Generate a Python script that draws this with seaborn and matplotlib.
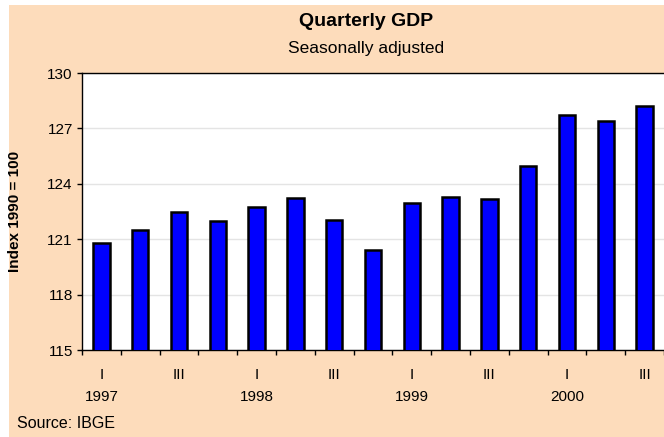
import matplotlib.pyplot as plt
import pandas as pd
import seaborn as sns
from matplotlib.patches import Rectangle

# Quarterly GDP, index 1990 = 100
years = ["1997"] * 4 + ["1998"] * 4 + ["1999"] * 4 + ["2000"] * 3
quarters = ["I", "II", "III", "IV"] * 3 + ["I", "II", "III"]
gdp_index = [120.8, 121.5, 122.5, 122.0,
             122.75, 123.25, 122.05, 120.4,
             122.95, 123.3, 123.2, 124.95,
             127.7, 127.4, 128.2]

df = pd.DataFrame({"year": years, "quarter": quarters, "value": gdp_index})
df["period"] = df["year"] + " " + df["quarter"]

peach = "#FDDCBB"

sns.set_style("white")
plt.rcParams["font.family"] = ["Liberation Sans", "DejaVu Sans"]
plt.rcParams["text.color"] = "black"
plt.rcParams["axes.labelcolor"] = "black"
plt.rcParams["xtick.color"] = "black"
plt.rcParams["ytick.color"] = "black"

fig = plt.figure(figsize=(6.64, 4.37), dpi=100)
fig.patch.set_facecolor("white")
fig.patches.append(Rectangle((9 / 664, 0), 655 / 664, 432 / 437,
                             transform=fig.transFigure, facecolor=peach,
                             edgecolor="none", zorder=-10))

ax = fig.add_axes([82 / 664, 87 / 437, 582 / 664, 277 / 437])
ax.set_facecolor("white")

sns.barplot(data=df, x="period", y="value", color="#0000FF", saturation=1,
            width=0.42, edgecolor="black", linewidth=1.8, ax=ax, zorder=3)

ax.set_ylim(115, 130)
ax.set_xlim(-0.5, len(df) - 0.5)
ax.set_yticks([115, 118, 121, 124, 127, 130])
ax.yaxis.grid(True, color="#E4E4E4", linewidth=1, zorder=0)
ax.set_axisbelow(True)

# roman numeral quarter labels, years underneath
xt_labels = [q if q in ("I", "III") else "" for q in df["quarter"]]
ax.set_xticks(range(len(df)))
ax.set_xticklabels(xt_labels, fontsize=11)
ax.tick_params(axis="x", which="major", length=0, pad=13)
ax.set_xticks([i - 0.5 for i in range(len(df) + 1)], minor=True)
ax.tick_params(axis="x", which="minor", length=3.6, width=1, color="black",
               direction="out", bottom=True)
for i, (y, q) in enumerate(zip(df["year"], df["quarter"])):
    if q == "I":
        ax.text(i, -0.17, y, transform=ax.get_xaxis_transform(),
                ha="center", va="center", fontsize=11)

ax.tick_params(axis="y", length=3.6, width=1, color="black", direction="out",
               left=True, pad=3, labelsize=11)

ax.set_xlabel("")
ax.set_ylabel("Index 1990 = 100", fontsize=11, fontweight="bold")
ax.yaxis.set_label_coords(-60 / 582, 0.5)

for side in ["left", "bottom", "top"]:
    ax.spines[side].set_visible(True)
    ax.spines[side].set_color("black")
    ax.spines[side].set_linewidth(1)
ax.spines["right"].set_visible(False)

fig.text(366 / 664, 1 - 22 / 437, "Quarterly GDP", ha="center", va="center",
         fontsize=14, fontweight="bold")
fig.text(366 / 664, 1 - 48 / 437, "Seasonally adjusted", ha="center",
         va="center", fontsize=12.5)
fig.text(17 / 664, 1 - 424 / 437, "Source: IBGE", ha="left", va="center",
         fontsize=11.5)

fig.savefig("out.png", dpi=100, facecolor=fig.get_facecolor())
